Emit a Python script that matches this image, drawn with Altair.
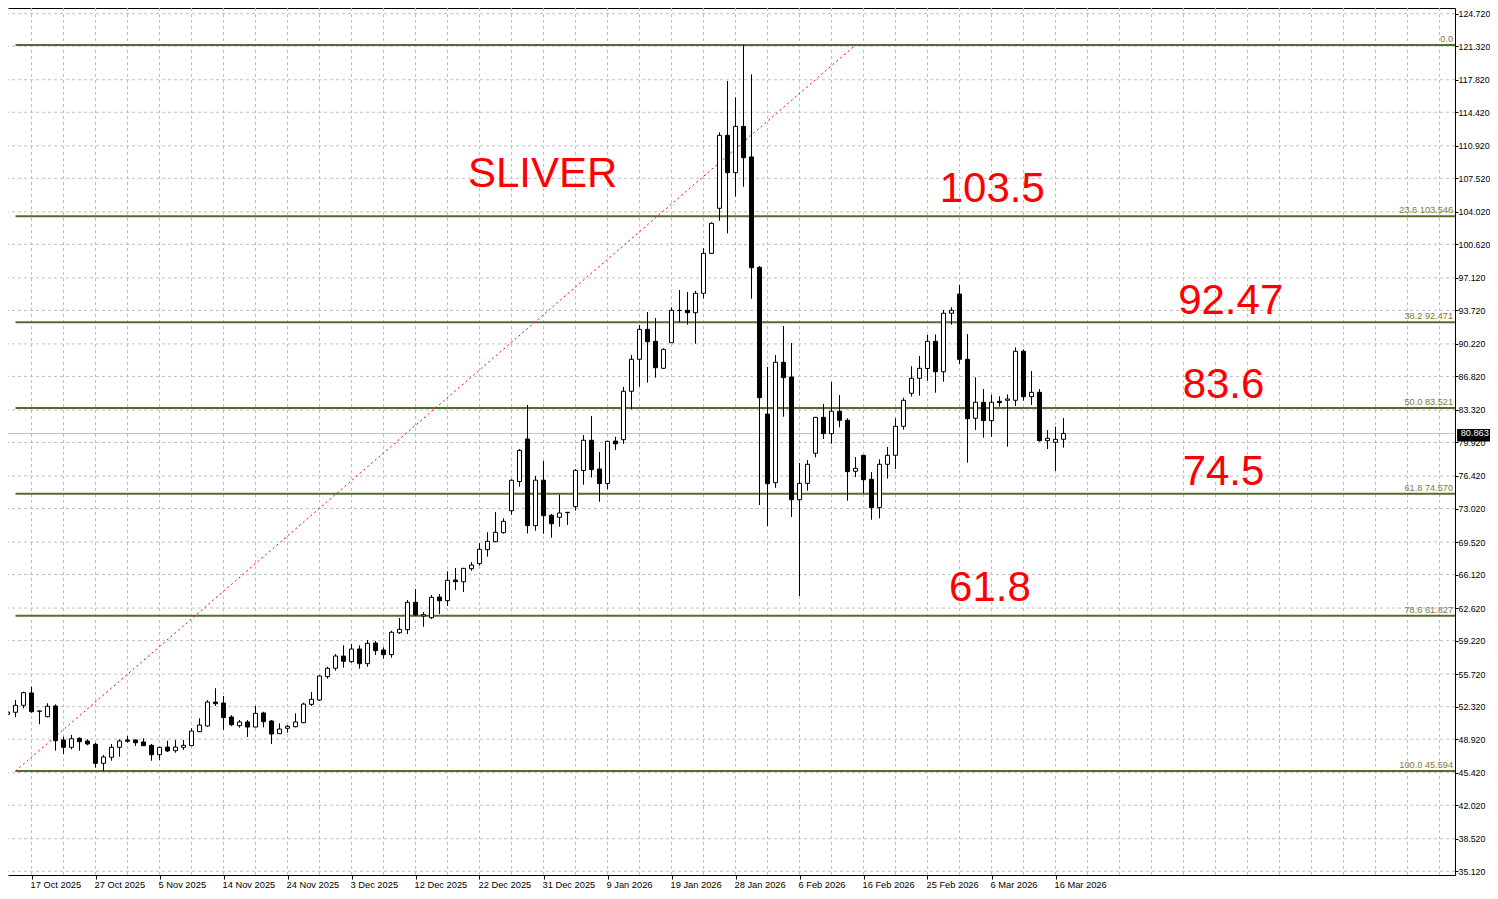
import json
import altair as alt
import pandas as pd

# ---------------- data ----------------
opens = [51.52, 51.73, 52.46, 53.75, 51.84, 51.27, 52.39, 48.84, 48.07, 49.01,
         48.73, 48.39, 46.40, 47.03, 48.07, 48.84, 48.84, 48.63, 48.28, 47.30,
         48.10, 47.72, 48.07, 48.24, 49.70, 50.30, 52.80, 52.70, 51.24, 50.33,
         50.72, 50.19, 51.66, 50.82, 49.49, 50.06, 50.22, 50.64, 52.56, 53.01,
         55.45, 56.33, 57.61, 57.02, 58.34, 56.81, 58.97, 58.24, 57.75, 60.04,
         60.36, 63.22, 61.79, 61.61, 63.77, 63.39, 65.55, 65.37, 66.73, 67.26,
         68.72, 69.55, 70.50, 72.79, 75.84, 80.28, 71.23, 75.98, 72.32, 72.10,
         72.58, 73.21, 76.99, 80.15, 77.15, 75.63, 80.07, 80.21, 85.27, 88.61,
         91.74, 90.49, 87.67, 90.34, 93.70, 93.73, 93.48, 95.51, 99.68, 104.39,
         112.01, 108.11, 112.95, 109.75, 98.22, 82.89, 75.72, 88.30, 86.76, 73.94,
         75.65, 78.79, 82.55, 80.84, 83.18, 82.24, 76.91, 78.58, 76.07, 73.11,
         77.64, 78.58, 81.61, 85.06, 86.63, 87.65, 90.49, 87.31, 93.42, 95.43,
         88.61, 82.45, 84.12, 82.20, 84.22, 84.33, 84.33, 89.45, 84.70, 85.16,
         80.11, 79.94, 80.25]
highs = [53.54, 53.01, 53.88, 54.40, 51.90, 52.67, 52.56, 49.18, 49.36, 49.12,
         48.91, 48.55, 47.27, 48.42, 48.91, 49.25, 48.91, 49.01, 48.42, 48.14,
         48.76, 48.84, 48.84, 50.06, 51.10, 53.01, 54.24, 53.43, 51.42, 50.92,
         50.92, 52.39, 51.79, 50.92, 50.58, 50.40, 51.62, 52.73, 53.85, 55.63,
         56.49, 57.82, 58.73, 58.87, 58.73, 59.28, 59.18, 58.52, 60.25, 61.58,
         63.46, 64.61, 62.21, 63.98, 64.09, 66.46, 66.81, 66.81, 67.43, 69.39,
         70.54, 72.66, 72.00, 76.07, 79.24, 83.84, 76.42, 77.98, 72.45, 74.48,
         72.66, 77.15, 80.70, 82.69, 78.93, 80.04, 80.51, 85.72, 89.06, 92.19,
         93.55, 92.93, 89.76, 94.04, 95.85, 95.64, 95.75, 100.21, 102.92, 112.33,
         117.69, 115.98, 121.45, 118.39, 98.36, 87.81, 89.06, 92.09, 90.31, 77.78,
         78.09, 82.55, 83.94, 86.24, 84.88, 82.45, 78.40, 78.58, 76.83, 78.16,
         79.45, 82.45, 84.60, 87.89, 88.96, 91.15, 91.20, 93.76, 94.04, 96.37,
         91.25, 86.73, 85.51, 84.91, 84.74, 84.95, 89.86, 89.65, 87.39, 85.51,
         81.22, 81.57, 82.48]
lows = [50.40, 51.21, 52.15, 51.69, 50.48, 51.21, 47.72, 47.37, 47.86, 47.72,
        48.28, 45.94, 45.59, 46.67, 47.09, 48.55, 48.21, 48.21, 46.67, 46.75,
        47.58, 47.51, 47.79, 48.21, 49.67, 50.22, 52.39, 49.88, 50.30, 50.12,
        49.15, 50.16, 50.16, 48.42, 49.46, 49.60, 50.16, 50.58, 52.39, 52.94,
        55.24, 56.08, 56.39, 56.91, 56.28, 56.49, 57.72, 57.33, 57.44, 59.91,
        59.91, 61.82, 60.67, 61.48, 62.00, 62.84, 64.51, 64.30, 66.52, 67.05,
        67.99, 69.49, 70.39, 72.37, 75.30, 70.41, 70.70, 70.39, 69.97, 71.12,
        71.30, 72.79, 75.51, 76.26, 73.73, 75.03, 79.13, 79.79, 83.39, 85.75,
        86.17, 86.69, 87.63, 90.34, 92.48, 92.23, 90.24, 94.96, 99.66, 103.09,
        101.77, 105.60, 106.64, 94.94, 73.39, 71.19, 75.19, 82.61, 72.13, 63.88,
        74.88, 78.37, 80.28, 79.79, 81.51, 73.84, 76.31, 74.61, 71.85, 72.00,
        76.14, 77.15, 81.25, 84.72, 84.81, 86.37, 85.12, 86.27, 92.23, 88.12,
        77.81, 81.22, 80.42, 80.52, 83.66, 79.48, 83.73, 84.28, 83.84, 80.00,
        79.24, 76.94, 79.37]
closes = [51.76, 52.46, 53.78, 51.79, 51.86, 52.36, 48.76, 48.07, 48.97, 48.66,
          48.42, 46.40, 47.06, 48.07, 48.73, 48.70, 48.55, 48.24, 47.30, 48.07,
          47.69, 48.10, 48.28, 49.77, 50.40, 52.80, 52.63, 51.17, 50.43, 50.72,
          50.19, 51.62, 50.75, 49.46, 49.98, 50.27, 50.72, 52.59, 53.09, 55.52,
          56.33, 57.61, 57.06, 58.34, 56.81, 58.94, 58.17, 57.75, 60.09, 60.40,
          63.22, 61.90, 61.93, 63.74, 63.39, 65.52, 65.37, 66.77, 67.12, 68.76,
          69.59, 70.54, 71.68, 75.97, 79.10, 71.23, 75.98, 72.27, 71.43, 72.55,
          72.62, 77.01, 80.15, 77.08, 75.63, 80.04, 79.78, 85.27, 88.61, 91.74,
          90.45, 87.73, 89.65, 93.73, 93.72, 93.48, 95.51, 99.68, 102.82, 112.01,
          108.11, 112.95, 109.67, 98.18, 84.60, 75.61, 88.30, 86.69, 73.94, 75.65,
          77.64, 82.55, 80.84, 83.18, 82.24, 76.87, 77.22, 76.03, 73.11, 77.64,
          78.58, 81.61, 84.33, 86.63, 87.67, 90.49, 87.31, 93.42, 93.73, 88.61,
          82.40, 84.12, 82.20, 84.12, 84.08, 84.46, 89.45, 84.70, 85.16, 80.11,
          80.36, 80.25, 80.863]

date_label_bars = [3, 11, 19, 27, 35, 43, 51, 59, 67, 75, 83, 91, 99, 107, 115, 123, 131]
date_labels = ["17 Oct 2025", "27 Oct 2025", "5 Nov 2025", "14 Nov 2025", "24 Nov 2025",
               "3 Dec 2025", "12 Dec 2025", "22 Dec 2025", "31 Dec 2025", "9 Jan 2026",
               "19 Jan 2026", "28 Jan 2026", "6 Feb 2026", "16 Feb 2026", "25 Feb 2026",
               "6 Mar 2026", "16 Mar 2026"]

price_ticks = [35.12, 38.52, 42.02, 45.42, 48.92, 52.32, 55.72, 59.22, 62.62, 66.12,
               69.52, 73.02, 76.42, 79.92, 83.32, 86.82, 90.22, 93.72, 97.12, 100.62,
               104.02, 107.52, 110.92, 114.42, 117.82, 121.32, 124.72]

fib_prices = [121.448, 103.546, 92.471, 83.521, 74.570, 61.827, 45.594]
fib_texts = ["0.0", "23.6 103.546", "38.2 92.471", "50.0 83.521", "61.8 74.570",
             "78.6 61.827", "100.0 45.594"]
fib_start_bar = 1
fib_end_bar = 106

last_price = 80.863

notes = ["SLIVER", "103.5", "92.47", "83.6", "74.5", "61.8"]
note_bars = [66.9, 123.1, 152.9, 152.0, 152.0, 122.8]
note_prices = [106.6, 105.0, 93.3, 84.6, 75.5, 63.4]

# ---------------- scales ----------------
X0, X1 = 0.0625, 180.9375
Y0, Y1 = 34.73, 125.314
xs = alt.Scale(domain=[X0, X1], nice=False, zero=False, padding=0)
ys = alt.Scale(domain=[Y0, Y1], nice=False, zero=False, padding=0)
FONT = "Liberation Sans"

bars = pd.DataFrame({"i": list(range(len(opens))), "open": opens, "high": highs,
                     "low": lows, "close": closes})

label_expr = f"{json.dumps(date_labels)}[round((datum.value - 3) / 8)]"
x_bottom_axis = alt.Axis(orient="bottom", values=date_label_bars, labelExpr=label_expr,
                         labelAlign="left", labelFont=FONT, labelFontSize=9.3,
                         labelColor="#000000", labelPadding=1, labelOffset=-1.5, tickSize=4,
                         tickColor="#000000", domainColor="#000000", grid=False,
                         labelOverlap=False, labelFlush=False, title=None)
y_right_axis = alt.Axis(orient="right", values=price_ticks,
                        labelExpr="format(datum.value, '.3f')", labelFont=FONT,
                        labelFontSize=8.8, labelColor="#000000", labelPadding=0,
                        labelAlign="left", labelBaseline="middle",
                        tickSize=3, tickColor="#000000", domainColor="#000000",
                        grid=False, labelOverlap=False, labelFlush=False, title=None)

hgrid = alt.Chart(pd.DataFrame({"p": price_ticks})).mark_rule(
    color="#c0c0c0", strokeDash=[3, 3], strokeWidth=1, clip=True
).encode(y=alt.Y("p:Q", scale=ys, axis=y_right_axis))

vgrid = alt.Chart(pd.DataFrame({"g": list(range(-1, 181, 4))})).mark_rule(
    color="#c0c0c0", strokeDash=[3, 3], strokeWidth=1, clip=True
).encode(x=alt.X("g:Q", scale=xs,
                 axis=alt.Axis(orient="top", labels=False, ticks=False, grid=False,
                               domain=True, domainColor="#000000", title=None)))

price_line = alt.Chart(pd.DataFrame({"p": [last_price]})).mark_rule(
    color="#c0c0c0", strokeWidth=1, clip=True
).encode(y=alt.Y("p:Q", scale=ys, axis=None))

fib_df = pd.DataFrame({"p": fib_prices, "t": fib_texts,
                       "x0": [fib_start_bar] * len(fib_prices), "x1": [X1] * len(fib_prices)})
fib_lines = alt.Chart(fib_df).mark_rule(color="#556B2F", strokeWidth=2, clip=True).encode(
    x=alt.X("x0:Q", scale=xs, axis=None), x2="x1:Q", y=alt.Y("p:Q", scale=ys, axis=None))
fib_labels = alt.Chart(fib_df).mark_text(
    align="right", baseline="bottom", dx=-2, dy=-1, font=FONT, fontSize=9.2, color="#7c7a3c", clip=True
).encode(x=alt.X("x1:Q", scale=xs, axis=None), y=alt.Y("p:Q", scale=ys, axis=None), text="t:N")

trend_df = pd.DataFrame({"x0": [fib_start_bar], "x1": [fib_end_bar],
                         "y0": [fib_prices[-1]], "y1": [fib_prices[0]]})
trend = alt.Chart(trend_df).mark_rule(color="#ff0000", strokeDash=[2, 3], strokeWidth=1, clip=True).encode(
    x=alt.X("x0:Q", scale=xs, axis=None), x2="x1:Q",
    y=alt.Y("y0:Q", scale=ys, axis=None), y2="y1:Q")

wicks = alt.Chart(bars).mark_rule(color="#000000", strokeWidth=1, clip=True).encode(
    x=alt.X("i:Q", scale=xs, axis=x_bottom_axis),
    y=alt.Y("low:Q", scale=ys, axis=None), y2="high:Q")

bodies = alt.Chart(bars).mark_bar(width=4, stroke="#000000", strokeWidth=1, clip=True).encode(
    x=alt.X("i:Q", scale=xs, axis=None),
    y=alt.Y("open:Q", scale=ys, axis=None),
    y2="close:Q",
    fill=alt.condition("datum.close >= datum.open", alt.value("#ffffff"), alt.value("#000000")),
)

notes_df = pd.DataFrame({"t": notes, "x": note_bars, "p": note_prices})
note_text = alt.Chart(notes_df).mark_text(
    align="center", baseline="alphabetic", font=FONT, fontSize=42, color="#ff0000"
).encode(x=alt.X("x:Q", scale=xs, axis=None), y=alt.Y("p:Q", scale=ys, axis=None), text="t:N")

tag_df = pd.DataFrame({"x0": [181.2], "x1": [185.7], "xc": [183.4],
                       "y0": [81.33], "y1": [80.02], "p": [last_price],
                       "t": [f"{last_price:.3f}"]})
tag_box = alt.Chart(tag_df).mark_rect(color="#000000").encode(
    x=alt.X("x0:Q", scale=xs, axis=None), x2="x1:Q",
    y=alt.Y("y0:Q", scale=ys, axis=None), y2="y1:Q")
tag_text = alt.Chart(tag_df).mark_text(
    align="center", baseline="middle", font=FONT, fontSize=9.2, color="#ffffff"
).encode(x=alt.X("xc:Q", scale=xs, axis=None), y=alt.Y("p:Q", scale=ys, axis=None), text="t:N")

chart = alt.layer(
    hgrid, vgrid, price_line, fib_lines, trend, wicks, bodies, fib_labels, note_text,
    tag_box, tag_text
).resolve_axis(x="independent", y="independent").properties(
    width=1447, height=867,
    autosize=alt.AutoSizeParams(type="none"),
    padding={"left": 0, "top": 0, "right": 35, "bottom": 14},
    background="#ffffff",
).configure_view(stroke=None)

chart.save("out.html", embed_options={"renderer": "svg", "actions": False})
